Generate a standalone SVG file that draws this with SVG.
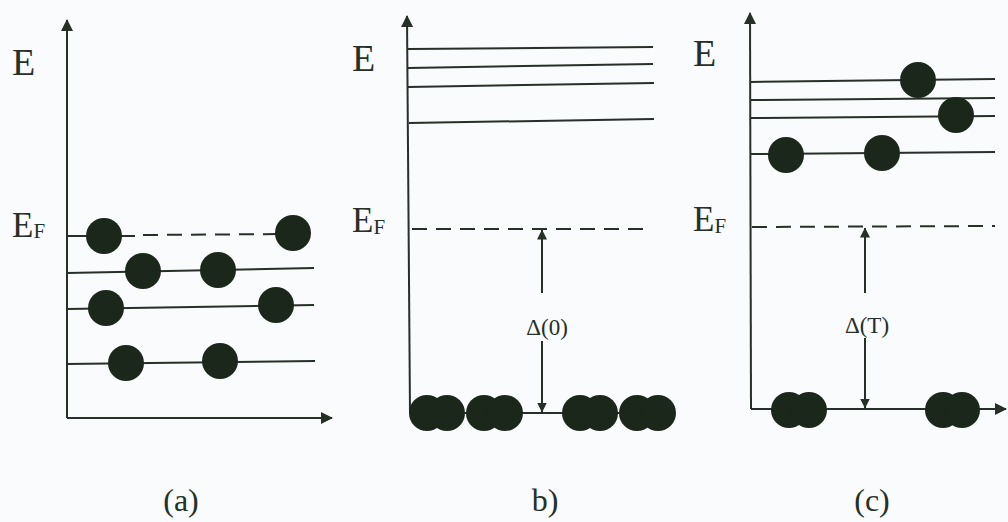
<svg xmlns="http://www.w3.org/2000/svg" width="1008" height="522" viewBox="0 0 1008 522">
<defs>
<style>
.ln{stroke:#263026;stroke-width:2;fill:none}
.ds{stroke:#263026;stroke-width:2;fill:none;stroke-dasharray:15 9}
.el{fill:#1c271c}
.t{font-family:"Liberation Serif",serif;fill:#263026}
.big{font-size:38px}
.ef{font-size:35px}
.sub{font-size:21px}
.cap{font-size:32px}
.dl{font-size:23px}
</style>
<marker id="ah" viewBox="0 0 12 12" refX="11" refY="6" markerWidth="12" markerHeight="12" markerUnits="userSpaceOnUse" orient="auto">
<path d="M0,0 L12,6 L0,12 z" fill="#263026"/>
</marker>
<marker id="ahs" viewBox="0 0 10 10" refX="9.5" refY="5" markerWidth="10" markerHeight="10" markerUnits="userSpaceOnUse" orient="auto">
<path d="M0,0 L10,5 L0,10 z" fill="#263026"/>
</marker>
</defs>
<rect width="1008" height="522" fill="#f9fbfc"/>

<g id="connectors">
<line class="ln" x1="67" y1="418" x2="67" y2="20" marker-end="url(#ah)"/>
<line class="ln" x1="67" y1="418" x2="332" y2="418" marker-end="url(#ah)"/>
<line class="ln" x1="410" y1="413" x2="407" y2="16" marker-end="url(#ah)"/>
<line class="ln" x1="751" y1="409" x2="750" y2="13" marker-end="url(#ah)"/>
<line class="ln" x1="751" y1="409" x2="1006" y2="409" marker-end="url(#ah)"/>
<line class="ln" x1="542" y1="293" x2="542" y2="230" marker-end="url(#ahs)"/>
<line class="ln" x1="542" y1="341" x2="542" y2="412" marker-end="url(#ahs)"/>
<line class="ln" x1="865" y1="293" x2="865" y2="228" marker-end="url(#ahs)"/>
<line class="ln" x1="865" y1="338" x2="865" y2="408" marker-end="url(#ahs)"/>
</g>

<g id="panel-a">
<text class="t big" x="12" y="75">E</text>
<text class="t ef" x="12" y="237">E<tspan class="sub" dy="1">F</tspan></text>
<line class="ln" x1="67" y1="236" x2="135" y2="236"/>
<line class="ds" x1="143" y1="235" x2="290" y2="234"/>
<line class="ln" x1="67" y1="273" x2="314" y2="268"/>
<line class="ln" x1="67" y1="309" x2="314" y2="305"/>
<line class="ln" x1="67" y1="364" x2="315" y2="361"/>
<circle class="el" cx="104" cy="236" r="18"/>
<circle class="el" cx="293" cy="233" r="18"/>
<circle class="el" cx="143" cy="271" r="18"/>
<circle class="el" cx="218" cy="270" r="18"/>
<circle class="el" cx="106" cy="308" r="18"/>
<circle class="el" cx="276" cy="305" r="18"/>
<circle class="el" cx="126" cy="363" r="18"/>
<circle class="el" cx="220" cy="361" r="18"/>
<text class="t cap" x="181" y="511" text-anchor="middle">(a)</text>
</g>

<g id="panel-b">
<text class="t big" x="352" y="71">E</text>
<text class="t ef" x="352" y="232">E<tspan class="sub" dy="2">F</tspan></text>
<line class="ln" x1="408" y1="49" x2="653" y2="47"/>
<line class="ln" x1="408" y1="68" x2="653" y2="64"/>
<line class="ln" x1="408" y1="87" x2="654" y2="83"/>
<line class="ln" x1="409" y1="123" x2="654" y2="119"/>
<line class="ds" x1="412" y1="229" x2="652" y2="229"/>
<line class="ln" x1="410" y1="413" x2="670" y2="413"/>
<text class="t dl" x="547" y="335" text-anchor="middle">Δ(0)</text>
<circle class="el" cx="427" cy="413" r="18"/>
<circle class="el" cx="447" cy="413" r="18"/>
<circle class="el" cx="484" cy="413" r="18"/>
<circle class="el" cx="505" cy="413" r="18"/>
<circle class="el" cx="580" cy="413" r="18"/>
<circle class="el" cx="600" cy="413" r="18"/>
<circle class="el" cx="637" cy="413" r="18"/>
<circle class="el" cx="658" cy="413" r="18"/>
<text class="t cap" x="545" y="511" text-anchor="middle">b)</text>
</g>

<g id="panel-c">
<text class="t big" x="693" y="66">E</text>
<text class="t ef" x="693" y="231">E<tspan class="sub" dy="2">F</tspan></text>
<line class="ln" x1="750" y1="82" x2="995" y2="79"/>
<line class="ln" x1="750" y1="100" x2="995" y2="98"/>
<line class="ln" x1="750" y1="118" x2="995" y2="116"/>
<line class="ln" x1="750" y1="154" x2="995" y2="152"/>
<line class="ds" x1="752" y1="227" x2="995" y2="226"/>
<circle class="el" cx="918" cy="80" r="18"/>
<circle class="el" cx="956" cy="115" r="18"/>
<circle class="el" cx="786" cy="155" r="18"/>
<circle class="el" cx="882" cy="153" r="18"/>
<text class="t dl" x="867" y="333" text-anchor="middle">Δ(T)</text>
<circle class="el" cx="789" cy="410" r="18"/>
<circle class="el" cx="809" cy="410" r="18"/>
<circle class="el" cx="943" cy="410" r="18"/>
<circle class="el" cx="962" cy="410" r="18"/>
<text class="t cap" x="872" y="511" text-anchor="middle">(c)</text>
</g>
</svg>
